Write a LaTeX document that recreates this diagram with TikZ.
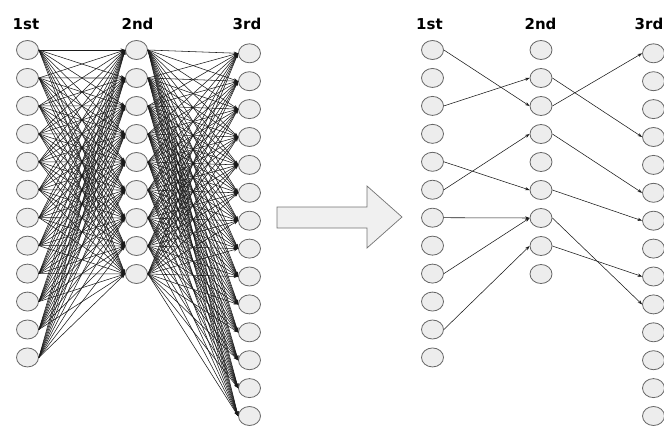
\documentclass[tikz,border=0pt]{standalone}
\usepackage{fontspec}
\newfontfamily\titlefont{DejaVu Sans}[BoldFont={DejaVu Sans Bold}]
\usetikzlibrary{arrows.meta,shapes.geometric}
\begin{document}
\begin{tikzpicture}[x=1pt,y=1pt,
  neuron/.style={ellipse,draw=black!60,fill=black!7,line width=0.8pt,minimum width=22pt,minimum height=19pt,inner sep=0pt},
  link/.style={draw=black!90,line width=0.55pt,-{Stealth[length=4.5pt,width=3.2pt]}},
  title/.style={font=\titlefont\bfseries\fontsize{15}{15}\selectfont,anchor=base,inner sep=0pt},
  bigarrow/.style={draw=black!55,fill=black!6,line width=0.7pt}]
\useasboundingbox (0,0) rectangle (664,-428);
% titles
\node[title] (t1) at (26,-30) {1st};
\node[title] (t2) at (137.5,-30) {2nd};
\node[title] (t3) at (247,-30) {3rd};
\node[title] (u1) at (429.5,-30) {1st};
\node[title] (u2) at (540.5,-30) {2nd};
\node[title] (u3) at (649,-30) {3rd};
% left network
\foreach \i in {0,...,11} \node[neuron] (A\i) at (27.5,{-50-27.95*\i}) {};
\foreach \i in {0,...,8} \node[neuron] (B\i) at (136.5,{-50-28*\i}) {};
\foreach \i in {0,...,13} \node[neuron] (C\i) at (249.5,{-53.3-27.9*\i}) {};
\foreach \i in {0,...,11} \foreach \j in {0,...,8} \draw[link] (A\i.east) -- (B\j.west);
\foreach \i in {0,...,8} \foreach \j in {0,...,13} \draw[link] (B\i.east) -- (C\j.west);
% right network
\foreach \i in {0,...,11} \node[neuron] (D\i) at (432.5,{-50-27.95*\i}) {};
\foreach \i in {0,...,8} \node[neuron] (E\i) at (541,{-50-28*\i}) {};
\foreach \i in {0,...,13} \node[neuron] (F\i) at (653.5,{-53.3-27.9*\i}) {};
\foreach \i/\j in {0/2,2/1,5/3,4/5,6/6,8/6,10/7} \draw[link] (D\i.east) -- (E\j.west);
\foreach \i/\j in {2/0,1/3,3/5,5/6,6/9,7/8} \draw[link] (E\i.east) -- (F\j.west);
% big arrow
\draw[bigarrow] (277,-207) -- (367,-207) -- (367,-186) -- (402,-217) -- (367,-248) -- (367,-228) -- (277,-228) -- cycle;
\end{tikzpicture}
\end{document}
